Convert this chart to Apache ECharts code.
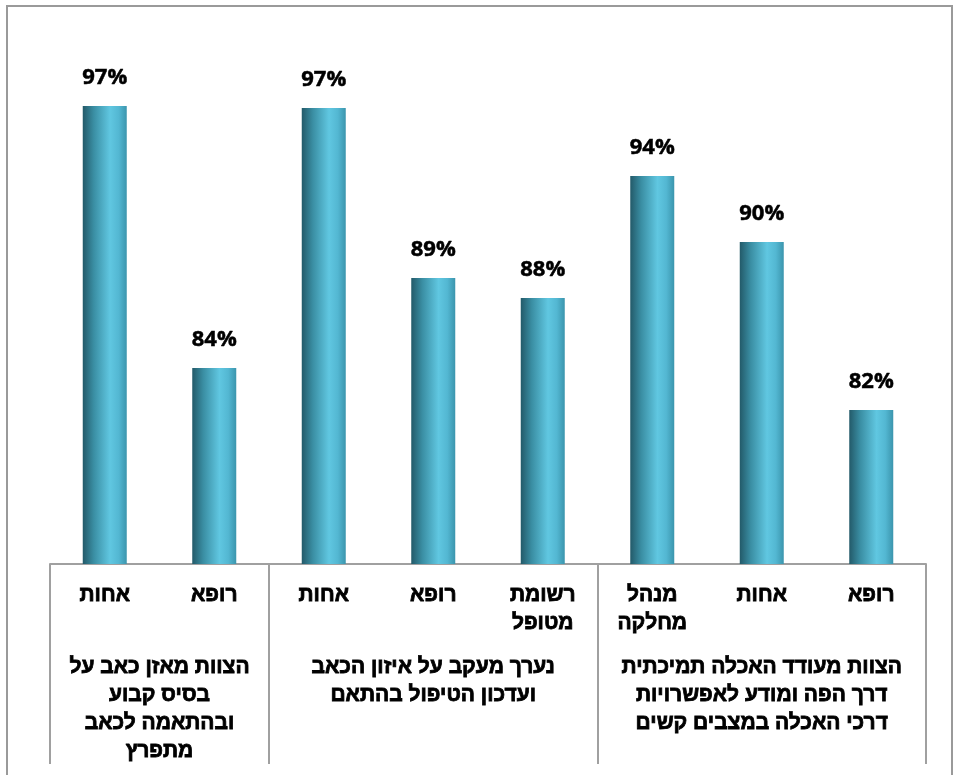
<!DOCTYPE html>
<html>
<head>
<meta charset="utf-8">
<script src="https://cdn.jsdelivr.net/npm/echarts@6/dist/echarts.min.js"></script>
<style>
html,body{margin:0;padding:0;background:#fff;}
#chart{width:964px;height:775px;}
</style>
</head>
<body>
<div id="chart"></div>
<script>
// Data
const roles = ['אחות', 'רופא', 'אחות', 'רופא', 'רשומת\nמטופל', 'מנהל\nמחלקה', 'אחות', 'רופא'];
const values = [97.2, 84.1, 97.1, 88.6, 87.6, 93.7, 90.4, 82.0];
const groups = [
  'הצוות מאזן כאב על\nבסיס קבוע\nובהתאמה לכאב\nמתפרץ',
  'נערך מעקב על איזון הכאב\nועדכון הטיפול בהתאם',
  'הצוות מעודד האכלה תמיכתית\nדרך הפה ומודע לאפשרויות\nדרכי האכלה במצבים קשים'
];
const groupSizes = [2, 3, 3];

// derived group boundaries and centers (in category units)
const bounds = [0];
groupSizes.forEach(s => bounds.push(bounds[bounds.length - 1] + s));
const centers = groupSizes.map((s, i) => bounds[i] + s / 2);

const hebFont = 'Liberation Sans';
const chart = echarts.init(document.getElementById('chart'));
chart.setOption({
  animation: false,
  backgroundColor: '#fff',
  graphic: [{
    type: 'rect',
    shape: { x: 7, y: 6, width: 945, height: 820 },
    style: { fill: 'none', stroke: '#9a9a9a', lineWidth: 2 },
    silent: true, z: -1
  }],
  grid: { left: 50, right: 38, top: 50, bottom: 211 },
  xAxis: [{
    type: 'category',
    data: roles,
    position: 'bottom',
    axisLine: { show: true, lineStyle: { color: '#a0a0a0', width: 2 } },
    axisTick: { show: false },
    axisLabel: {
      interval: 0, margin: 17, color: '#000', fontWeight: 'bold',
      fontSize: 21, lineHeight: 28, fontFamily: hebFont, align: 'center',
      textBorderColor: '#000', textBorderWidth: 0.8
    }
  }, {
    type: 'value',
    min: 0, max: bounds[bounds.length - 1],
    position: 'bottom',
    axisLine: { show: false },
    splitLine: { show: false },
    axisTick: {
      show: true, customValues: bounds, length: 200,
      lineStyle: { color: '#a0a0a0', width: 2 }
    },
    axisLabel: {
      customValues: centers, margin: 89, color: '#000', fontWeight: 'bold',
      fontSize: 21, lineHeight: 28, fontFamily: hebFont, align: 'center',
      textBorderColor: '#000', textBorderWidth: 0.8,
      formatter: function (v) {
        const i = centers.indexOf(v);
        return i >= 0 ? groups[i] : '';
      }
    }
  }],
  yAxis: { type: 'value', min: 74.3, max: 100, show: false, splitLine: { show: false } },
  series: [{
    type: 'bar',
    xAxisIndex: 0,
    data: values,
    barWidth: 44,
    itemStyle: {
      color: new echarts.graphic.LinearGradient(0, 0, 1, 0, [
        { offset: 0, color: '#235a69' },
        { offset: 0.25, color: '#3a8ea3' },
        { offset: 0.62, color: '#60c7e1' },
        { offset: 0.82, color: '#53b7d2' },
        { offset: 1, color: '#3b95ad' }
      ])
    },
    label: {
      show: true, position: 'top', distance: 17,
      color: '#000', fontWeight: 'bold', fontSize: 22, fontFamily: 'Open Sans',
      textBorderColor: '#000', textBorderWidth: 0.5,
      formatter: p => Math.round(p.value) + '%'
    }
  }]
});
</script>
</body>
</html>
